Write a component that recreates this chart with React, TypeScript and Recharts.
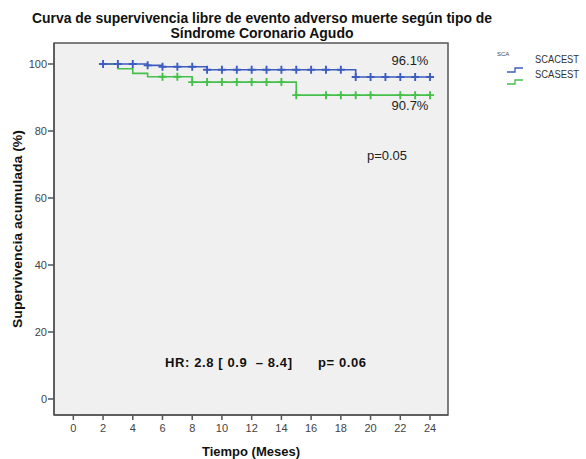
import React from 'react';
import { ComposedChart, Line, Scatter, XAxis, YAxis, CartesianGrid, ReferenceArea } from 'recharts';

// Kaplan-Meier step points (months, survival %)
const BLUE_T = [2, 5, 6, 9, 19, 24];
const BLUE_S = [100, 99.6, 99.2, 98.3, 96.1, 96.1];
const GREEN_T = [2, 3, 4, 5, 8, 15, 24];
const GREEN_S = [100, 98.6, 97.2, 96.2, 94.6, 90.7, 90.7];

// censored observations (months)
const BLUE_CENSOR = [2, 3, 4, 5, 6, 7, 8, 9, 10, 11, 12, 13, 14, 15, 16, 17, 18, 19, 20, 21, 22, 23, 24];
const GREEN_CENSOR = [6, 7, 8, 9, 10, 11, 12, 13, 14, 15, 17, 18, 19, 20, 22, 23, 24];

const X_TICKS = [0, 2, 4, 6, 8, 10, 12, 14, 16, 18, 20, 22, 24];
const Y_TICKS = [0, 20, 40, 60, 80, 100];

const BLUE = '#3d5cbf';
const GREEN = '#45c04a';
const X_DOMAIN: [number, number] = [-1.3, 25.21];
const Y_DOMAIN: [number, number] = [-4.78, 106.27];

const toSteps = (t: number[], s: number[]) => t.map((v, i) => ({ t: v, s: s[i] }));
const survAt = (t: number[], s: number[], x: number) => {
  let v = s[0];
  t.forEach((tt, i) => {
    if (tt <= x) v = s[i];
  });
  return v;
};
const toCensor = (c: number[], t: number[], s: number[]) => c.map((x) => ({ t: x, s: survAt(t, s, x) }));

const blueSteps = toSteps(BLUE_T, BLUE_S);
const greenSteps = toSteps(GREEN_T, GREEN_S);
const blueCensor = toCensor(BLUE_CENSOR, BLUE_T, BLUE_S);
const greenCensor = toCensor(GREEN_CENSOR, GREEN_T, GREEN_S);

const Plus = (props: any) => {
  const { cx, cy, fill } = props;
  if (cx == null || cy == null) return null;
  return <path d={`M${cx - 4},${cy}h8M${cx},${cy - 4}v8`} stroke={fill} strokeWidth={1.9} fill="none" />;
};

const font = 'Liberation Sans, Arial, sans-serif';

export default function App() {
  return (
    <div style={{ position: 'absolute', left: 0, top: 0, width: 586, height: 459, background: '#fff', fontFamily: font }}>
      <ComposedChart width={586} height={459} margin={{ top: 43, right: 138, left: 0, bottom: 0 }}>
        <CartesianGrid horizontal={false} vertical={false} fill="#f0f0f0" />
        <XAxis
          type="number"
          dataKey="t"
          domain={X_DOMAIN}
          ticks={X_TICKS}
          height={44}
          allowDataOverflow
          stroke="#555"
          strokeWidth={1.5}
          tickSize={5}
          tickMargin={4}
          tick={{ fill: '#444', fontSize: 11, fontFamily: font }}
        />
        <YAxis
          type="number"
          domain={Y_DOMAIN}
          ticks={Y_TICKS}
          width={54}
          allowDataOverflow
          stroke="#555"
          strokeWidth={1.5}
          tickSize={6}
          tickMargin={1}
          tick={{ fill: '#444', fontSize: 11, fontFamily: font }}
        />
        <ReferenceArea x1={X_DOMAIN[0]} x2={X_DOMAIN[1]} y1={Y_DOMAIN[0]} y2={Y_DOMAIN[1]} fill="none" stroke="#555" strokeWidth={1.5} />
        <Line data={greenSteps} dataKey="s" type="stepAfter" stroke={GREEN} strokeWidth={1.6} dot={false} isAnimationActive={false} />
        <Line data={blueSteps} dataKey="s" type="stepAfter" stroke={BLUE} strokeWidth={1.6} dot={false} isAnimationActive={false} />
        <Scatter data={greenCensor} dataKey="s" fill={GREEN} shape={Plus} isAnimationActive={false} />
        <Scatter data={blueCensor} dataKey="s" fill={BLUE} shape={Plus} isAnimationActive={false} />
      </ComposedChart>
      <svg width={586} height={459} style={{ position: 'absolute', left: 0, top: 0, pointerEvents: 'none' }} fontFamily={font}>
        <text x={262} y={23} textAnchor="middle" fontSize={14} fontWeight="bold" fill="#111" textLength={460} lengthAdjust="spacingAndGlyphs">
          Curva de supervivencia libre de evento adverso muerte según tipo de
        </text>
        <text x={262} y={38} textAnchor="middle" fontSize={14} fontWeight="bold" fill="#111" textLength={183} lengthAdjust="spacingAndGlyphs">
          Síndrome Coronario Agudo
        </text>
        <text x={410} y={65} textAnchor="middle" fontSize={13} fill="#222">96.1%</text>
        <text x={410} y={110} textAnchor="middle" fontSize={13} fill="#222">90.7%</text>
        <text x={387} y={160} textAnchor="middle" fontSize={13} fill="#222">p=0.05</text>
        <text x={165} y={367} fontSize={13} fontWeight="bold" fill="#111" style={{ whiteSpace: 'pre' }} textLength={201} lengthAdjust="spacing">
          {'HR: 2.8 [ 0.9  – 8.4]      p= 0.06'}
        </text>
        <text x={17} y={229} textAnchor="middle" fontSize={13} fontWeight="bold" fill="#111" transform="rotate(-90 17 229)" dominantBaseline="central" textLength={198} lengthAdjust="spacingAndGlyphs">
          Supervivencia acumulada (%)
        </text>
        <text x={251} y={456} textAnchor="middle" fontSize={13} fontWeight="bold" fill="#111">Tiempo (Meses)</text>
        <text x={497} y={56} fontSize={6} fill="#444">SCA</text>
        <text x={535} y={63} fontSize={10} fill="#333" textLength={44} lengthAdjust="spacingAndGlyphs">SCACEST</text>
        <text x={535} y={78} fontSize={10} fill="#333" textLength={44} lengthAdjust="spacingAndGlyphs">SCASEST</text>
        <path d="M507,72h8v-4h8" stroke={BLUE} strokeWidth={1.3} fill="none" />
        <path d="M507,84h8v-4h8" stroke={GREEN} strokeWidth={1.3} fill="none" />
      </svg>
    </div>
  );
}
